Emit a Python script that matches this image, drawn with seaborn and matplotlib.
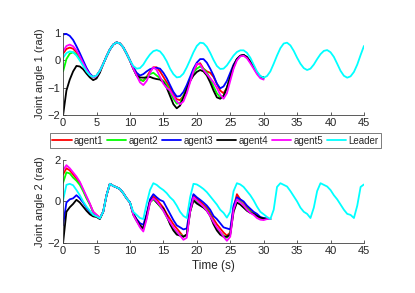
import matplotlib
matplotlib.use('Agg')
import matplotlib.pyplot as plt
import seaborn as sns
import numpy as np
import pandas as pd

# time grids (s)
t_lead = np.arange(0, 45.01, 0.5)
t_top = np.arange(0, 30.01, 0.5)
t_bot = np.arange(0, 31.01, 0.5)

# ---- joint angle 1 ----
leader1 = [0.1, 0.27, 0.33, 0.3, 0.18, 0.0, -0.2, -0.4, -0.54, -0.6,
           -0.55, -0.38, -0.13, 0.15, 0.4, 0.58, 0.66, 0.62, 0.48, 0.25,
           0.0, -0.2, -0.3, -0.28, -0.15, 0.05, 0.22, 0.34, 0.38, 0.33,
           0.18, -0.03, -0.3, -0.5, -0.62, -0.6, -0.48, -0.25, 0.02, 0.3,
           0.53, 0.65, 0.63, 0.5, 0.28, 0.02, -0.2, -0.31, -0.3, -0.18,
           0.0, 0.18, 0.31, 0.37, 0.37, 0.28, 0.1, -0.15, -0.4, -0.57,
           -0.63, -0.57, -0.4, -0.12, 0.18, 0.45, 0.62, 0.65, 0.55, 0.35,
           0.1, -0.12, -0.28, -0.35, -0.3, -0.15, 0.05, 0.23, 0.35, 0.38,
           0.3, 0.13, -0.12, -0.38, -0.56, -0.63, -0.58, -0.42, -0.15, 0.2,
           0.53]

a1_agent1 = [0.25, 0.42, 0.47, 0.43, 0.3, 0.1, -0.13, -0.36, -0.53, -0.6, -0.56,
             -0.38, -0.13, 0.15, 0.4, 0.58, 0.66, 0.62, 0.48, 0.25,
             0.0, -0.25, -0.5, -0.7, -0.75, -0.6, -0.4, -0.25, -0.25, -0.4,
             -0.6, -0.8, -1.0, -1.25, -1.42, -1.45, -1.3, -1.05, -0.75, -0.45,
             -0.15, -0.1, -0.3, -0.4, -0.45, -0.6, -0.85, -1.1, -1.2, -1.0,
             -0.65, -0.25, 0.05, 0.17, 0.2, 0.12, -0.05, -0.25, -0.45, -0.6, -0.63]
a1_agent2 = [-0.4, 0.05, 0.25, 0.3, 0.22, 0.05, -0.17, -0.38, -0.54, -0.62, -0.56,
             -0.38, -0.13, 0.15, 0.4, 0.58, 0.66, 0.62, 0.48, 0.25,
             0.0, -0.3, -0.55, -0.7, -0.75, -0.6, -0.5, -0.45, -0.55, -0.65,
             -0.75, -0.9, -1.15, -1.4, -1.58, -1.55, -1.3, -1.0, -0.7, -0.45,
             -0.3, -0.22, -0.3, -0.45, -0.65, -0.95, -1.2, -1.35, -1.3, -1.0,
             -0.6, -0.2, 0.05, 0.17, 0.2, 0.12, -0.05, -0.25, -0.45, -0.6, -0.63]
a1_agent3 = [0.95, 0.97, 0.9, 0.75, 0.52, 0.27, 0.0, -0.27, -0.48, -0.6, -0.57,
             -0.38, -0.13, 0.15, 0.4, 0.58, 0.66, 0.62, 0.48, 0.25,
             0.0, -0.25, -0.45, -0.55, -0.5, -0.4, -0.32, -0.28, -0.27, -0.3,
             -0.45, -0.65, -0.9, -1.15, -1.32, -1.3, -1.15, -0.9, -0.6, -0.3,
             -0.08, 0.05, 0.05, -0.08, -0.3, -0.55, -0.85, -1.02, -0.95, -0.75,
             -0.45, -0.15, 0.05, 0.17, 0.2, 0.12, -0.05, -0.25, -0.45, -0.58, -0.63]
a1_agent4 = [-2.0, -1.1, -0.7, -0.4, -0.2, -0.22, -0.32, -0.48, -0.62, -0.72, -0.66,
             -0.45, -0.13, 0.15, 0.4, 0.58, 0.66, 0.62, 0.48, 0.25,
             0.0, -0.3, -0.55, -0.62, -0.63, -0.62, -0.6, -0.65, -0.68, -0.7,
             -0.8, -1.0, -1.3, -1.6, -1.75, -1.65, -1.35, -1.05, -0.75, -0.55,
             -0.42, -0.35, -0.4, -0.55, -0.8, -1.1, -1.35, -1.4, -1.3, -1.0,
             -0.6, -0.2, 0.05, 0.17, 0.2, 0.12, -0.05, -0.25, -0.45, -0.6, -0.63]
a1_agent5 = [0.33, 0.53, 0.58, 0.52, 0.37, 0.15, -0.1, -0.34, -0.52, -0.62, -0.57,
             -0.38, -0.13, 0.15, 0.4, 0.58, 0.66, 0.62, 0.48, 0.25,
             0.0, -0.3, -0.55, -0.8, -0.9, -0.75, -0.45, -0.25, -0.35, -0.6,
             -0.85, -1.0, -1.1, -1.3, -1.5, -1.6, -1.5, -1.2, -0.8, -0.4,
             -0.12, -0.15, -0.35, -0.5, -0.65, -0.8, -1.0, -1.25, -1.4, -1.2,
             -0.75, -0.3, 0.0, 0.15, 0.17, 0.08, -0.1, -0.3, -0.5, -0.65, -0.7]

# ---- joint angle 2 ----
leader2 = [0.06, 0.8, 0.85, 0.78, 0.55, 0.3, 0.0, -0.25, -0.45, -0.65,
           -0.72, -0.82, -0.5, 0.3, 0.85, 0.75, 0.68, 0.6, 0.4, 0.15,
           -0.05, -0.5, -0.65, -0.8, -0.85, -0.1, 0.55, 0.88, 0.8, 0.66,
           0.55, 0.4, 0.2, 0.05, -0.2, -0.5, -0.7, -0.8, 0.2, 0.85,
           0.82, 0.72, 0.6, 0.45, 0.25, 0.05, -0.15, -0.4, -0.55, -0.78,
           -0.5, 0.5, 0.88, 0.82, 0.7, 0.5, 0.3, 0.05, -0.25, -0.5,
           -0.62, -0.75, -0.85, -0.4, 0.7, 0.88, 0.8, 0.72, 0.5, 0.25,
           0.0, -0.3, -0.5, -0.6, -0.8, -0.3, 0.5, 0.88, 0.8, 0.72,
           0.55, 0.3, 0.1, -0.15, -0.4, -0.6, -0.65, -0.8, -0.2, 0.7,
           0.82]

a2_agent1 = [1.3, 1.6, 1.5, 1.3, 1.1, 0.9, 0.55, 0.2, -0.12, -0.5, -0.65, -0.8, -0.5,
             0.3, 0.85, 0.75, 0.68, 0.6, 0.4, 0.15, -0.05,
             -0.6, -0.9, -1.15, -1.35, -0.7, 0.0, 0.25, 0.1, -0.1, -0.3,
             -0.6, -0.85, -1.1, -1.3, -1.5, -1.7, -1.6, -0.4, 0.3, 0.15,
             0.0, -0.15, -0.3, -0.55, -0.85, -1.1, -1.3, -1.5, -1.65, -1.5,
             -0.3, 0.35, 0.1, -0.05, -0.25, -0.45, -0.55, -0.7, -0.8, -0.85, -0.85, -0.85]
a2_agent2 = [0.9, 1.4, 1.35, 1.15, 1.0, 0.8, 0.5, 0.15, -0.15, -0.52, -0.68, -0.8, -0.5,
             0.3, 0.85, 0.75, 0.68, 0.6, 0.4, 0.15, -0.05,
             -0.65, -0.95, -1.2, -1.3, -0.8, -0.05, 0.1, -0.05, -0.25, -0.45,
             -0.75, -1.05, -1.3, -1.5, -1.6, -1.7, -1.6, -0.5, 0.1, -0.05,
             -0.15, -0.25, -0.4, -0.65, -1.0, -1.3, -1.5, -1.65, -1.75, -1.55,
             -0.4, 0.15, 0.0, -0.2, -0.35, -0.5, -0.6, -0.7, -0.78, -0.82, -0.85, -0.85]
a2_agent3 = [-1.15, -0.05, 0.1, 0.15, 0.3, 0.15, -0.05, -0.3, -0.5, -0.65, -0.72, -0.82, -0.5,
             0.3, 0.85, 0.75, 0.68, 0.6, 0.4, 0.15, -0.05,
             -0.6, -0.85, -1.05, -1.13, -0.6, 0.1, 0.35, 0.2, 0.07, 0.0,
             -0.3, -0.6, -0.9, -1.15, -1.25, -1.35, -1.3, -0.3, 0.35, 0.2,
             0.08, -0.05, -0.2, -0.4, -0.7, -0.85, -1.05, -1.25, -1.3, -1.35,
             -0.2, 0.2, 0.1, 0.0, -0.2, -0.35, -0.5, -0.6, -0.75, -0.8, -0.82, -0.85]
a2_agent4 = [-2.0, -0.5, -0.28, -0.12, 0.08, -0.05, -0.25, -0.45, -0.62, -0.72, -0.75, -0.85, -0.5,
             0.3, 0.85, 0.75, 0.68, 0.6, 0.4, 0.15, -0.05,
             -0.6, -0.9, -1.15, -1.3, -0.7, 0.0, 0.15, -0.05, -0.2, -0.35,
             -0.7, -1.1, -1.4, -1.6, -1.65, -1.7, -1.6, -0.5, 0.05, -0.1,
             -0.2, -0.3, -0.45, -0.7, -1.1, -1.4, -1.6, -1.7, -1.7, -1.6,
             -0.5, -0.05, -0.15, -0.3, -0.45, -0.55, -0.6, -0.7, -0.78, -0.82, -0.85, -0.85]
a2_agent5 = [1.5, 1.75, 1.6, 1.4, 1.2, 0.95, 0.6, 0.25, -0.1, -0.5, -0.65, -0.78, -0.5,
             0.3, 0.85, 0.75, 0.68, 0.6, 0.4, 0.15, -0.05,
             -0.65, -0.95, -1.25, -1.45, -0.85, -0.05, 0.15, 0.0, -0.2, -0.45,
             -0.75, -1.0, -1.25, -1.45, -1.65, -1.85, -1.75, -0.5, 0.2, 0.05,
             -0.1, -0.25, -0.45, -0.7, -1.0, -1.25, -1.45, -1.7, -1.9, -1.7,
             -0.4, 0.1, -0.05, -0.2, -0.4, -0.55, -0.65, -0.8, -0.88, -0.9, -0.85, -0.85]

names = ['agent1', 'agent2', 'agent3', 'agent4', 'agent5', 'Leader']
colors = ['#ff0000', '#00ff00', '#0000ff', '#000000', '#ff00ff', '#00ffff']


def long_df(t_agent, agents, leader):
    frames = []
    for n, y in zip(names[:5], agents):
        frames.append(pd.DataFrame({'t': t_agent, 'y': y, 'series': n}))
    frames.append(pd.DataFrame({'t': t_lead, 'y': leader, 'series': 'Leader'}))
    return pd.concat(frames, ignore_index=True)


df1 = long_df(t_top, [a1_agent1, a1_agent2, a1_agent3, a1_agent4, a1_agent5], leader1)
df2 = long_df(t_bot, [a2_agent1, a2_agent2, a2_agent3, a2_agent4, a2_agent5], leader2)

sns.set_style('ticks')
plt.rcParams['font.family'] = ['Liberation Sans', 'DejaVu Sans']
plt.rcParams['xtick.direction'] = 'in'
plt.rcParams['ytick.direction'] = 'in'

fig = plt.figure(figsize=(4.15, 2.93), dpi=100)
ax1 = fig.add_axes([0.152, 0.607, 0.725, 0.280])
ax2 = fig.add_axes([0.152, 0.171, 0.725, 0.283])

for ax, df, ylim, yticks, ylab in [(ax1, df1, (-2, 1), [-2, -1, 0, 1], 'Joint angle 1 (rad)'),
                                    (ax2, df2, (-2, 2), [-2, 0, 2], 'Joint angle 2 (rad)')]:
    sns.lineplot(data=df, x='t', y='y', hue='series', hue_order=names, palette=colors,
                 estimator=None, sort=False, linewidth=1.3, legend=False, ax=ax)
    ax.set_xlim(0, 45)
    ax.set_ylim(*ylim)
    ax.set_xticks(range(0, 46, 5))
    ax.set_yticks(yticks)
    ax.set_ylabel(ylab, fontsize=8, color='#262626', labelpad=2)
    ax.set_xlabel('')
    ax.tick_params(labelsize=8, length=2.5, width=0.6, colors='#404040', labelcolor='#262626', pad=2)
    for s in ['left', 'bottom']:
        ax.spines[s].set_linewidth(0.6)
        ax.spines[s].set_color('#404040')
    sns.despine(ax=ax)

ax2.set_xlabel('Time (s)', fontsize=8.5, color='#262626', labelpad=3)

handles = ax1.lines[:6]
leg = fig.legend(handles, names, loc='center', bbox_to_anchor=(0.519, 0.52), ncol=6,
                 fontsize=7, frameon=True, fancybox=False, edgecolor='#404040',
                 handlelength=2.0, handletextpad=0.25, columnspacing=0.35, borderpad=0.25,
                 borderaxespad=0)
leg.get_frame().set_linewidth(0.6)

fig.savefig('out.png', dpi=100)
